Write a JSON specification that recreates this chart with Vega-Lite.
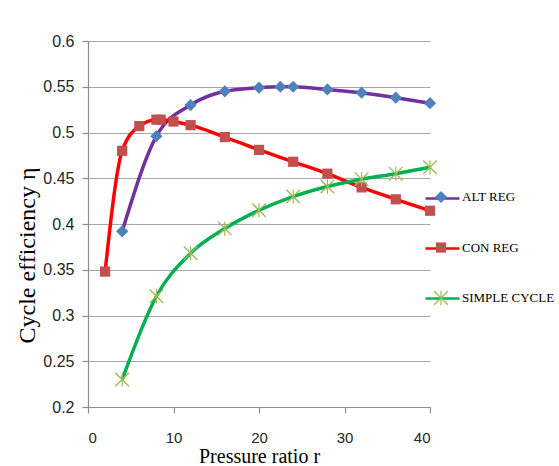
{
  "$schema": "https://vega.github.io/schema/vega-lite/v6.json",
  "autosize": "none",
  "width": 342,
  "height": 366,
  "padding": {"left": 88, "top": 41, "right": 129, "bottom": 59},
  "background": "white",
  "config": {
    "view": {"stroke": null},
    "axis": {"labelFont": "Liberation Sans", "titleFont": "Liberation Serif", "titleFontWeight": "normal", "titleColor": "#000000", "labelColor": "#262626", "domainColor": "#8C8C8C", "tickColor": "#8C8C8C", "gridColor": "#A6A6A6", "gridWidth": 1.2, "domainWidth": 1.2, "tickWidth": 1.2},
    "legend": {"labelFont": "Liberation Serif", "labelFontSize": 13, "labelColor": "#000000"}
  },
  "data": {
    "values": [
      {"series": "ALT REG", "r": 4, "eta": 0.392},
      {"series": "ALT REG", "r": 8, "eta": 0.496},
      {"series": "ALT REG", "r": 12, "eta": 0.530},
      {"series": "ALT REG", "r": 16, "eta": 0.545},
      {"series": "ALT REG", "r": 20, "eta": 0.549},
      {"series": "ALT REG", "r": 22.5, "eta": 0.550},
      {"series": "ALT REG", "r": 24, "eta": 0.550},
      {"series": "ALT REG", "r": 28, "eta": 0.547},
      {"series": "ALT REG", "r": 32, "eta": 0.5435},
      {"series": "ALT REG", "r": 36, "eta": 0.538},
      {"series": "ALT REG", "r": 40, "eta": 0.532},
      {"series": "CON REG", "r": 2, "eta": 0.348},
      {"series": "CON REG", "r": 4, "eta": 0.480},
      {"series": "CON REG", "r": 6, "eta": 0.507},
      {"series": "CON REG", "r": 8, "eta": 0.514},
      {"series": "CON REG", "r": 8.5, "eta": 0.514},
      {"series": "CON REG", "r": 10, "eta": 0.512},
      {"series": "CON REG", "r": 12, "eta": 0.508},
      {"series": "CON REG", "r": 16, "eta": 0.495},
      {"series": "CON REG", "r": 20, "eta": 0.481},
      {"series": "CON REG", "r": 24, "eta": 0.468},
      {"series": "CON REG", "r": 28, "eta": 0.455},
      {"series": "CON REG", "r": 32, "eta": 0.440},
      {"series": "CON REG", "r": 36, "eta": 0.427},
      {"series": "CON REG", "r": 40, "eta": 0.4145},
      {"series": "SIMPLE CYCLE", "r": 4, "eta": 0.230},
      {"series": "SIMPLE CYCLE", "r": 8, "eta": 0.321},
      {"series": "SIMPLE CYCLE", "r": 12, "eta": 0.368},
      {"series": "SIMPLE CYCLE", "r": 16, "eta": 0.395},
      {"series": "SIMPLE CYCLE", "r": 20, "eta": 0.415},
      {"series": "SIMPLE CYCLE", "r": 24, "eta": 0.430},
      {"series": "SIMPLE CYCLE", "r": 28, "eta": 0.441},
      {"series": "SIMPLE CYCLE", "r": 32, "eta": 0.449},
      {"series": "SIMPLE CYCLE", "r": 36, "eta": 0.455},
      {"series": "SIMPLE CYCLE", "r": 40, "eta": 0.462}
    ]
  },
  "encoding": {
    "x": {
      "field": "r", "type": "quantitative",
      "scale": {"domain": [0, 40], "nice": false, "zero": false},
      "axis": {
        "values": [0, 10, 20, 30, 40], "grid": false, "tickSize": 6,
        "labelFontSize": 15, "labelPadding": 17,
        "title": "Pressure ratio  r", "titleFontSize": 20,
        "titleY": 49, "titleBaseline": "middle"
      }
    },
    "y": {
      "field": "eta", "type": "quantitative",
      "scale": {"domain": [0.2, 0.6], "nice": false, "zero": false},
      "axis": {
        "values": [0.2, 0.25, 0.3, 0.35, 0.4, 0.45, 0.5, 0.55, 0.6],
        "format": ".2~f", "grid": true, "tickSize": 6,
        "labelFontSize": 16, "labelPadding": 8,
        "title": "Cycle efficiency  η", "titleFontSize": 24,
        "titleX": -61, "titleY": 214, "titleBaseline": "middle", "titleAlign": "center", "titleAngle": -90
      }
    }
  },
  "layer": [
    {
      "mark": {"type": "line", "interpolate": "monotone", "strokeWidth": 3.5},
      "encoding": {
        "stroke": {
          "field": "series", "type": "nominal",
          "scale": {"domain": ["ALT REG", "CON REG", "SIMPLE CYCLE"], "range": ["#7030A0", "#FF0000", "#00B050"]},
          "legend": {
            "orient": "none", "legendX": 336, "legendY": 139, "title": null,
            "symbolType": "stroke", "symbolSize": 1156, "symbolStrokeWidth": 2.5,
            "labelOffset": 4, "rowPadding": 24, "padding": 0, "labelExpr": "''", "zindex": 0
          }
        }
      }
    },
    {
      "mark": {"type": "point", "filled": true, "opacity": 1, "size": 1156},
      "encoding": {
        "color": {
          "field": "series", "type": "nominal",
          "scale": {"range": ["#4F81BD", "#C0504D", "#9BBB59"]},
          "legend": {
            "orient": "none", "legendX": 336, "legendY": 139, "title": null,
            "symbolSize": 1156, "symbolStrokeWidth": 0,
            "labelOffset": 4, "rowPadding": 26.5, "padding": 0, "zindex": 1
          }
        },
        "shape": {
          "field": "series", "type": "nominal",
          "scale": {"range": [
            "M0,-0.36L0.36,0L0,0.36L-0.36,0Z",
            "M-0.3,-0.3H0.3V0.3H-0.3Z",
            "M-0.372,-0.428L0.428,0.372L0.372,0.428L-0.428,-0.372Z M-0.428,0.372L0.372,-0.428L0.428,-0.372L-0.372,0.428Z M-0.035,-0.42L0.035,-0.42L0.035,0.42L-0.035,0.42Z"
          ]},
          "legend": {
            "orient": "none", "legendX": 336, "legendY": 139, "title": null,
            "symbolSize": 1156, "symbolStrokeWidth": 0,
            "labelOffset": 4, "rowPadding": 26.5, "padding": 0, "zindex": 1
          }
        }
      }
    }
  ]
}
